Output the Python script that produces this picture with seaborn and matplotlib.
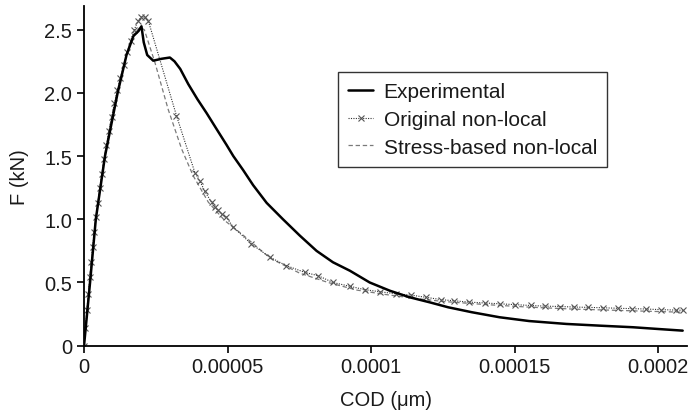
import numpy as np
import pandas as pd
import matplotlib
matplotlib.use("Agg")
import matplotlib.pyplot as plt
import seaborn as sns

# ---- data (COD in units of 1e-5, F in kN) ----
exp_x = [0, 0.21, 0.41, 0.73, 1.17, 1.48, 1.72, 1.9, 2.0, 2.08, 2.2, 2.41, 2.7, 2.99,
         3.15, 3.35, 3.63, 3.95, 4.27, 4.6, 4.96, 5.2, 5.54, 5.89, 6.36, 6.93, 7.52,
         8.1, 8.67, 9.26, 9.95, 10.65, 11.34, 12.04, 12.68, 13.5, 14.47, 15.5, 16.8,
         18.0, 19.11, 20.0, 20.85]
exp_y = [0, 0.5, 1.0, 1.5, 2.0, 2.3, 2.45, 2.49, 2.527, 2.40, 2.30, 2.255, 2.27, 2.28,
         2.25, 2.19, 2.07, 1.95, 1.84, 1.72, 1.59, 1.50, 1.39, 1.27, 1.13, 1.0, 0.87,
         0.75, 0.66, 0.593, 0.50, 0.435, 0.383, 0.343, 0.304, 0.265, 0.225, 0.195,
         0.172, 0.158, 0.146, 0.132, 0.119]

orig_x = [0, 0.05, 0.1, 0.15, 0.2, 0.25, 0.3, 0.36, 0.42, 0.48, 0.55, 0.62, 0.7, 0.78,
          0.87, 0.96, 1.06, 1.16, 1.27, 1.38, 1.5, 1.62, 1.75, 1.88, 2.0, 2.12, 2.24,
          3.22, 3.86, 4.04, 4.21, 4.44, 4.55, 4.67, 4.8, 4.96, 5.2, 5.83, 6.47, 7.05,
          7.69, 8.15, 8.67, 9.26, 9.78, 10.3, 10.88, 11.4, 11.9, 12.45, 12.9, 13.4,
          13.95, 14.5, 15.0, 15.55, 16.05, 16.56, 17.05, 17.55, 18.07, 18.6, 19.1,
          19.58, 20.1, 20.6, 20.85]
orig_y = [0, 0.14, 0.28, 0.41, 0.54, 0.66, 0.78, 0.9, 1.02, 1.13, 1.25, 1.36, 1.48, 1.59,
          1.7, 1.81, 1.92, 2.02, 2.12, 2.22, 2.32, 2.41, 2.5, 2.57, 2.6, 2.6, 2.57,
          1.82, 1.37, 1.30, 1.22, 1.135, 1.10, 1.07, 1.04, 1.016, 0.937, 0.805, 0.70,
          0.633, 0.58, 0.554, 0.50, 0.47, 0.443, 0.427, 0.41, 0.40, 0.383, 0.364,
          0.355, 0.345, 0.338, 0.331, 0.325, 0.318, 0.313, 0.31, 0.306, 0.303, 0.30,
          0.296, 0.293, 0.29, 0.285, 0.282, 0.28]

stress_x = [0, 0.2, 0.42, 0.7, 0.96, 1.27, 1.5, 1.75, 1.95, 2.1, 2.47, 2.93, 3.4, 3.8,
            4.33, 4.9, 5.49, 6.5, 7.5, 8.5, 9.5, 10.5, 11.5, 12.5, 14, 15.5, 17, 18.5,
            20, 20.85]
stress_y = [0, 0.54, 1.02, 1.48, 1.81, 2.12, 2.32, 2.47, 2.52, 2.5, 2.24, 1.87, 1.556,
            1.345, 1.135, 0.99, 0.884, 0.69, 0.575, 0.5, 0.44, 0.405, 0.375, 0.35, 0.325,
            0.305, 0.29, 0.28, 0.27, 0.265]

x_ticks = [0, 0.00005, 0.0001, 0.00015, 0.0002]
x_tick_labels = ["0", "0.00005", "0.0001", "0.00015", "0.0002"]
y_ticks = [0, 0.5, 1.0, 1.5, 2.0, 2.5]
y_tick_labels = ["0", "0.5", "1.0", "1.5", "2.0", "2.5"]

sns.set_style("ticks")
plt.rcParams["font.family"] = ["Liberation Sans", "DejaVu Sans"]

scale = 1e-5
df_exp = pd.DataFrame({"x": np.array(exp_x) * scale, "y": exp_y})
df_orig = pd.DataFrame({"x": np.array(orig_x) * scale, "y": orig_y})
df_str = pd.DataFrame({"x": np.array(stress_x) * scale, "y": stress_y})

fig = plt.figure(figsize=(6.91, 4.14), dpi=100)
ax = fig.add_axes([0.1216, 0.1626, 0.8726, 0.8212])

sns.lineplot(data=df_str, x="x", y="y", ax=ax, color="#7a7a7a", lw=0.9,
             linestyle=(0, (3.5, 2.2)), label="Stress-based non-local", sort=False)
sns.lineplot(data=df_orig, x="x", y="y", ax=ax, color="#333333", lw=0.8,
             linestyle=(0, (1, 1.2)), marker="x", markersize=4, markeredgewidth=0.8,
             markeredgecolor="#555555", label="Original non-local", sort=False)
sns.lineplot(data=df_exp, x="x", y="y", ax=ax, color="black", lw=1.8,
             label="Experimental", sort=False)

ax.set_xlim(0, 0.00021)
ax.set_ylim(0, 2.69)
ax.set_xticks(x_ticks)
ax.set_xticklabels(x_tick_labels)
ax.set_yticks(y_ticks)
ax.set_yticklabels(y_tick_labels)
ax.tick_params(labelsize=14.5, length=5, width=1.2, color="black", labelcolor="#1a1a1a",
               pad=3.5)
ax.set_xlabel("COD (\u03bcm)", fontsize=14.5, color="#1a1a1a", labelpad=10)
ax.set_ylabel("F (kN)", fontsize=14.5, color="#1a1a1a", labelpad=11)
sns.despine(ax=ax)
for s in ["left", "bottom"]:
    ax.spines[s].set_linewidth(1.3)
    ax.spines[s].set_color("black")

handles, labels = ax.get_legend_handles_labels()
order = [labels.index("Experimental"), labels.index("Original non-local"),
         labels.index("Stress-based non-local")]
leg = ax.legend([handles[i] for i in order], [labels[i] for i in order],
                loc="upper left", bbox_to_anchor=(0.421, 0.806), borderaxespad=0,
                fontsize=15, frameon=True, fancybox=False, edgecolor="black",
                handlelength=1.2, borderpad=0.5, labelspacing=0.42, handletextpad=0.5)
leg.get_frame().set_linewidth(1.0)
for t in leg.get_texts():
    t.set_color("#1a1a1a")

fig.savefig("out.png", dpi=100)
